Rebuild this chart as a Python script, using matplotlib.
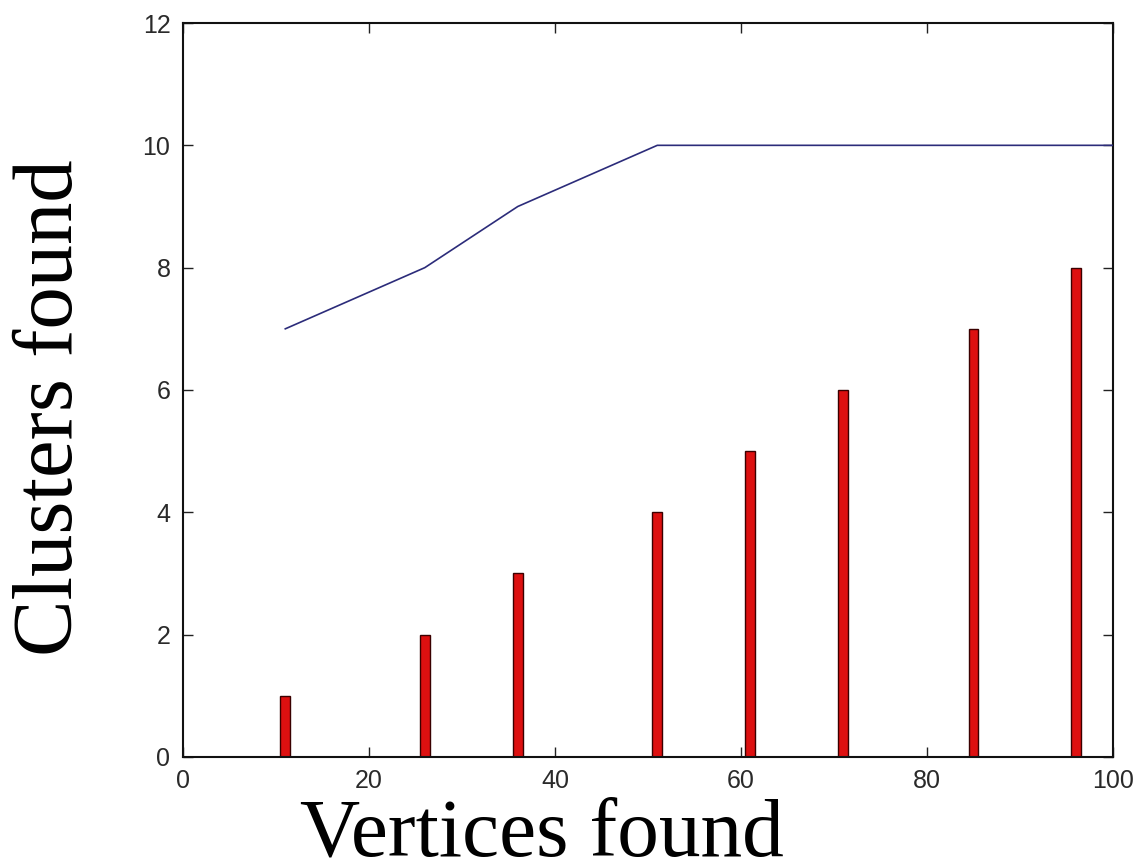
import matplotlib
matplotlib.use("Agg")
import matplotlib.pyplot as plt

# Vertices found at each step and clusters discovered
bar_x = [11, 26, 36, 51, 61, 71, 85, 96]
bar_heights = [1, 2, 3, 4, 5, 6, 7, 8]

line_x = [11, 26, 36, 51, 100]
line_y = [7, 8, 9, 10, 10]

x_ticks = [0, 20, 40, 60, 80, 100]
y_ticks = [0, 2, 4, 6, 8, 10, 12]

fig = plt.figure(figsize=(11.38, 8.68), dpi=100)
ax = fig.add_axes([0.1608, 0.1279, 0.8172, 0.8456])

ax.bar(bar_x, bar_heights, width=1.05, color="#dd1010", edgecolor="#3a0000",
       linewidth=1.0, zorder=2)
ax.plot(line_x, line_y, color="#2c2c7a", linewidth=1.2, zorder=3)

ax.set_xlim(0, 100)
ax.set_ylim(0, 12)
ax.set_xticks(x_ticks)
ax.set_yticks(y_ticks)
ax.tick_params(direction="in", length=7, width=1.0, top=True, right=True,
               labelsize=18, pad=9, labelcolor="#2a2a2a", color="#222222")
for lab in ax.get_xticklabels() + ax.get_yticklabels():
    lab.set_fontfamily("Liberation Sans")
for s in ax.spines.values():
    s.set_linewidth(1.5)
    s.set_color("#111111")

ax.set_xlabel("Vertices found", fontfamily="Liberation Serif", fontsize=60)
ax.xaxis.set_label_coords(0.3855, -0.056)
ax.set_ylabel("Clusters found", fontfamily="Liberation Serif", fontsize=61,
              va="center", ha="center")
ax.yaxis.set_label_coords(-0.141, 0.476)

fig.savefig("out.png", dpi=100, facecolor="white")
